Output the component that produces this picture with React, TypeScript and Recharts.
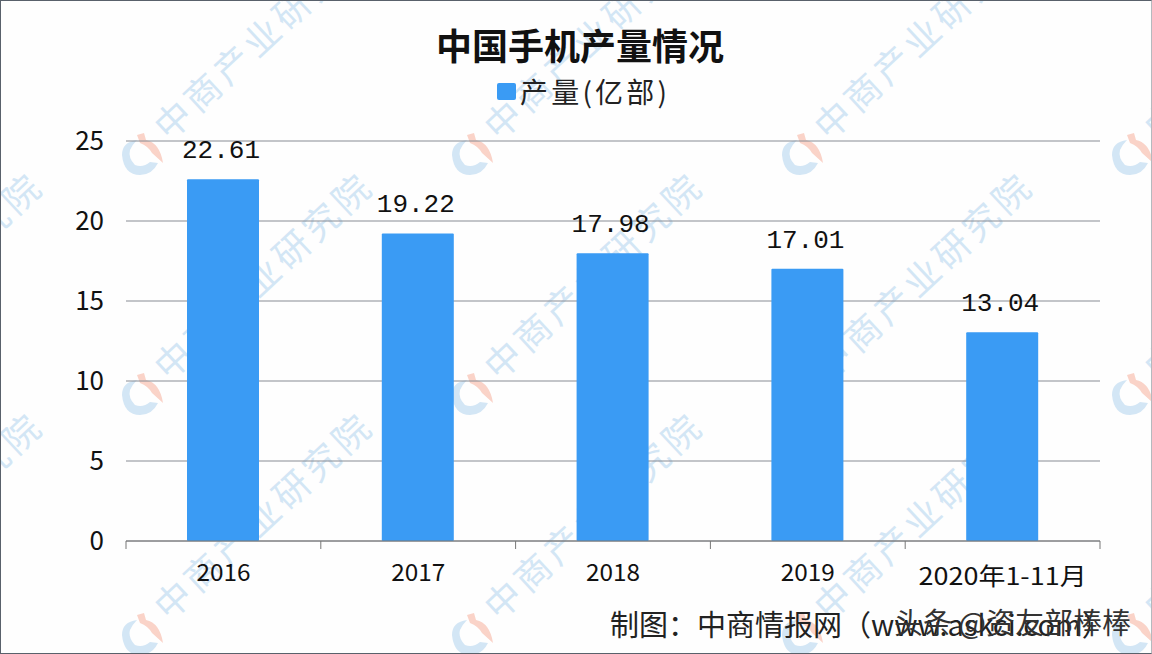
import React from "react";
import { BarChart, Bar, XAxis, YAxis, CartesianGrid, LabelList, Legend } from "recharts";

const categories = ["2016", "2017", "2018", "2019", "2020年1-11月"];
const output = [22.61, 19.22, 17.98, 17.01, 13.04];
const yTicks = [0, 5, 10, 15, 20, 25];
const seriesName = "产量(亿部)";
const chartTitle = "中国手机产量情况";
const credit = "制图：中商情报网（www.askci.com）";
const overlay = "头条 @资友部棒棒";
const watermark = "中商产业研究院";
const wmCols = [-1, 0, 1, 2, 3];
const wmRows = [0, 1, 2];

const rows = categories.map((name, i) => ({ name, value: output[i] }));
const FONT = '"Noto Sans CJK SC", sans-serif';
const BLUE = "#3a9bf4";

function Watermarks() {
  return (
    <svg width={1152} height={654} style={{ position: "absolute", left: 0, top: 0 }}>
      {wmRows.map((r) =>
        wmCols.map((c) => (
          <g key={`${r}-${c}`} transform={`translate(${c * 330},${r * 240})`}>
            <path
              d="M137 140 Q122 142 122 155 Q124 175 140 175 Q152 175 158 163 L150 162 Q143 168 135 165 Q128 158 130 150 Q132 145 137 140 Z"
              fill="#d3e6f5"
            />
            <path d="M137 135 L144 133 L146 140 Q160 143 163 163 L152 153 Q148 146 140 143 Z" fill="#fad3c8" />
            <text
              x={169}
              y={142}
              fontFamily={FONT}
              fontSize={36}
              letterSpacing={4.5}
              fill="#d3e6f5"
              transform="rotate(-43 169 142)"
            >
              {watermark}
            </text>
          </g>
        ))
      )}
    </svg>
  );
}

function CategoryTick(props: any) {
  const { x, y, payload, index } = props;
  const band = 974 / categories.length;
  const last = index === categories.length - 1;
  return (
    <g>
      {index === 0 && <line x1={x - band / 2} x2={x - band / 2} y1={y - 8} y2={y} stroke="#777" />}
      <line x1={x + band / 2} x2={x + band / 2} y1={y - 8} y2={y} stroke="#777" />
      <text
        x={x}
        y={y + 32 + (last ? 4 : 0)}
        textAnchor="middle"
        fontFamily={FONT}
        fontSize={24}
        fill="#111"
        textLength={last ? 168 : 54}
        lengthAdjust="spacingAndGlyphs"
      >
        {payload.value}
      </text>
    </g>
  );
}

function LegendBox() {
  return (
    <div
      style={{
        position: "absolute",
        left: 497,
        top: 73,
        display: "flex",
        alignItems: "center",
        fontFamily: FONT,
        fontSize: 28,
        lineHeight: "36px",
        color: "#222",
        whiteSpace: "nowrap",
      }}
    >
      <span style={{ width: 19, height: 17, background: BLUE, borderRadius: 2, marginRight: 4 }} />
      <span style={{ letterSpacing: 3.2 }}>{seriesName}</span>
    </div>
  );
}

export default function App() {
  return (
    <div
      style={{
        position: "absolute",
        left: 0,
        top: 0,
        width: 1152,
        height: 654,
        background: "#fefefe",
        overflow: "hidden",
      }}
    >
      <Watermarks />
      <div style={{ position: "absolute", left: 0, top: 0 }}>
        <BarChart
          width={1152}
          height={654}
          data={rows}
          margin={{ top: 141, right: 52, bottom: 53, left: 0 }}
          barSize={72}
        >
          <CartesianGrid vertical={false} stroke="#888c94" strokeWidth={1} />
          <XAxis
            dataKey="name"
            height={60}
            axisLine={{ stroke: "#777" }}
            tickLine={false}
            tick={<CategoryTick />}
            interval={0}
          />
          <YAxis
            width={126}
            domain={[0, 25]}
            ticks={yTicks}
            axisLine={false}
            tickLine={false}
            tickMargin={16}
            tick={{ fontFamily: FONT, fontSize: 26, fill: "#111" }}
          />
          <Legend
            content={<LegendBox />}
            verticalAlign="top"
            wrapperStyle={{ left: 0, top: 0, width: 1152, height: 0 }}
          />
          <Bar dataKey="value" name={seriesName} fill={BLUE} radius={1} isAnimationActive={false}>
            <LabelList
              dataKey="value"
              position="top"
              offset={21}
              dx={-2}
              fontFamily='"Liberation Mono", monospace'
              fontSize={26}
              fill="#111"
              formatter={(v: number) => v.toFixed(2)}
            />
          </Bar>
        </BarChart>
      </div>
      <div
        style={{
          position: "absolute",
          left: 4,
          width: 1152,
          top: 21,
          textAlign: "center",
          fontFamily: FONT,
          fontWeight: 700,
          fontSize: 36,
          lineHeight: "46px",
          color: "#111",
        }}
      >
        {chartTitle}
      </div>
      <div
        style={{
          position: "absolute",
          left: 610,
          top: 604,
          fontFamily: FONT,
          fontSize: 29,
          lineHeight: "38px",
          color: "#222",
          whiteSpace: "nowrap",
        }}
      >
        {credit}
      </div>
      <div
        style={{
          position: "absolute",
          left: 894,
          top: 602,
          fontFamily: FONT,
          fontSize: 29,
          lineHeight: "38px",
          color: "#333",
          whiteSpace: "nowrap",
        }}
      >
        {overlay}
      </div>
      <div
        style={{
          position: "absolute",
          left: 0,
          top: 0,
          width: 1152,
          height: 654,
          boxSizing: "border-box",
          borderTop: "1px solid #59616b",
          borderLeft: "1px solid #59616b",
          borderBottom: "1px solid #59616b",
          borderRight: "1px solid #b5b9be",
          pointerEvents: "none",
        }}
      />
    </div>
  );
}
